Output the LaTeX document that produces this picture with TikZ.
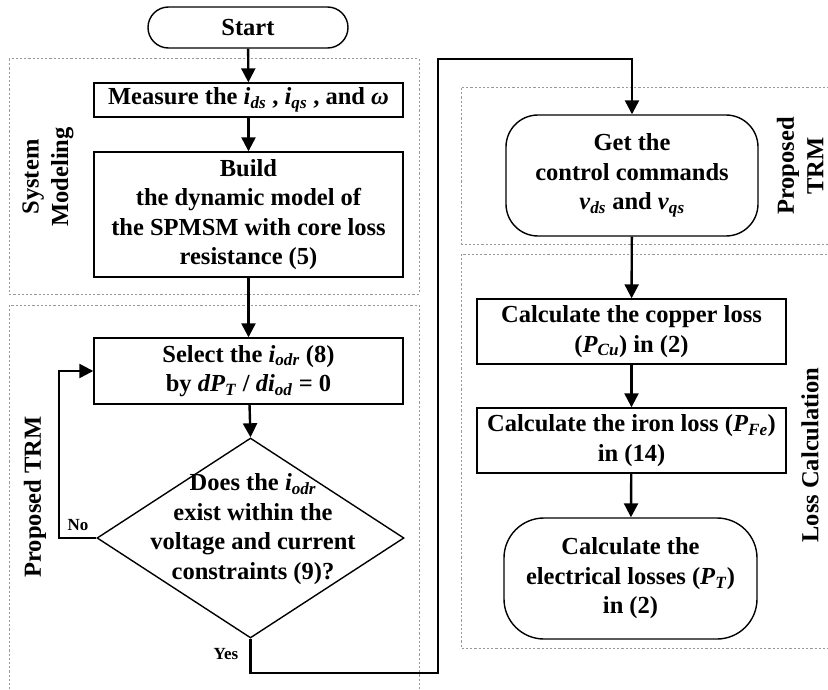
\documentclass[tikz,border=0pt]{standalone}
\usepackage{fontspec}
\setmainfont{Liberation Serif}
\usetikzlibrary{shapes.geometric,arrows.meta}
\newcommand{\vsub}[2]{\textit{#1}\textsubscript{\textit{#2}}}
\tikzset{
  every node/.style={font=\bfseries\fontsize{24.5}{29.5}\selectfont, align=center, inner sep=0pt},
  box/.style={draw, line width=1.4pt, minimum width=#1},
  rbox/.style={draw, line width=1.4pt, rounded corners=#1},
  grp/.style={draw=gray!80, line width=1pt, dash pattern=on 2.2pt off 2pt},
  conn/.style={line width=2.4pt, -{Triangle[width=14pt,length=14pt]}},
  lbl/.style={rotate=90},
  yn/.style={font=\bfseries\fontsize{17}{19}\selectfont},
}
\begin{document}
\begin{tikzpicture}[x=1pt,y=-1pt]
\useasboundingbox (0,0) rectangle (828,690);
\clip (0,0) rectangle (828,690);
% group frames
\draw[grp] (9,59) rectangle (419,294);
\draw[grp] (9,305) rectangle (419,710);
\draw[grp] (461,88) rectangle (840,244);
\draw[grp] (461,254) rectangle (840,648);
% group labels
\node[lbl] (lsm) at (48,177) {System\\Modeling};
\node[lbl] (ltrm) at (35,497) {Proposed TRM};
\node[lbl] (rtrm) at (800,166) {Proposed\\TRM};
\node[lbl] (lloss) at (810,455) {Loss Calculation};
% nodes
\node[rbox=20.5pt, minimum width=200pt, minimum height=41pt] (start) at (248,27.5) {Start};
\node[box=309pt, minimum height=34pt] (meas) at (248.5,100) {Measure the \vsub{i}{ds} , \vsub{i}{qs} , and \textit{ω}};
\node[box=309pt, minimum height=125pt] (build) at (248.5,214.5) {Build\\the dynamic model of\\the SPMSM with core loss\\resistance (5)};
\node[box=309pt, minimum height=66pt] (sel) at (248.5,371) {Select the \vsub{i}{odr} (8)\\by \textit{dP}\textsubscript{\textit{T}} / \textit{di}\textsubscript{\textit{od}} = 0};
\node[draw, line width=1.4pt, diamond, minimum width=307pt, minimum height=200pt] (dec) at (250.5,538) {};
\node (dect) at (253,529) {Does the \vsub{i}{odr}\\exist within the\\voltage and current\\constraints (9)?};
\node[rbox=32pt, minimum width=252pt, minimum height=121pt] (get) at (632,175.5) {Get the\\control commands\\\vsub{v}{ds} and \vsub{v}{qs}};
\node[box=309pt, minimum height=65pt] (cu) at (631.5,331.5) {Calculate the copper loss\\(\vsub{P}{Cu}) in (2)};
\node[box=309pt, minimum height=65pt] (fe) at (631.5,440.5) {Calculate the iron loss (\vsub{P}{Fe})\\in (14)};
\node[rbox=40pt, minimum width=253pt, minimum height=121pt] (fin) at (630.5,578.5) {Calculate the\\electrical losses (\vsub{P}{T})\\in (2)};
% labels
\node[yn] (no) at (78,525) {No};
\node[yn] (yes) at (226,654) {Yes};
% helper coordinates
\coordinate (nox) at (59,538);
\coordinate (yb) at (438,673);
\coordinate (yt) at (438,59);
% connectors
\draw[conn] (start) -- (meas);
\draw[conn] (meas) -- (build);
\draw[conn] (build) -- (sel);
\draw[conn] (sel) -- (dec.north);
\draw[conn] (dec.west) -- (nox) |- (sel.west);
\draw[conn] (dec.south) |- (yb) -- (yt) -| (get.north);
\draw[conn] (get) -- (cu);
\draw[conn] (cu) -- (fe);
\draw[conn] (fe) -- (fin);
\end{tikzpicture}
\end{document}
